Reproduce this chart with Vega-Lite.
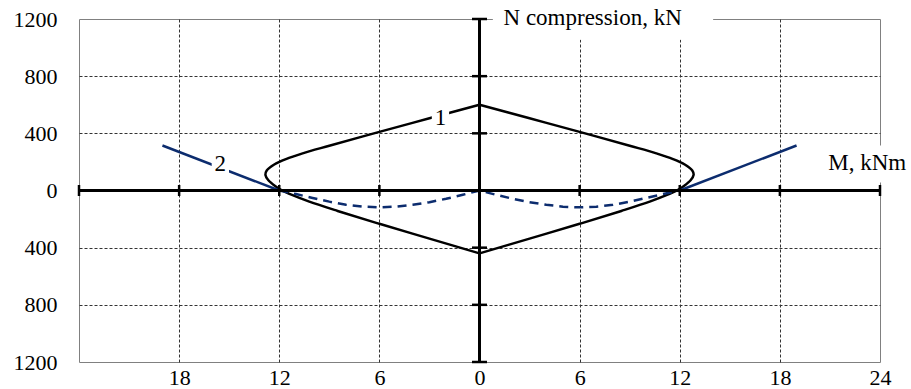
{
  "$schema": "https://vega.github.io/schema/vega-lite/v6.json",
  "width": 801,
  "height": 343,
  "autosize": {"type": "none"},
  "padding": {"left": 79, "top": 19, "right": 31, "bottom": 27},
  "background": "white",
  "config": {"view": {"stroke": "#808080", "strokeWidth": 1}, "font": "'Liberation Serif', serif"},
  "datasets": {
    "boxes": [
      {"x1": 0.8, "x2": 14, "y1": 1055, "y2": 1340},
      {"x1": 20.6, "x2": 26, "y1": 56, "y2": 315}
    ],
    "c1": [
      {"h": "L", "o": 1, "x": 0, "y": 600}, {"h": "L", "o": 2, "x": -3, "y": 505}, {"h": "L", "o": 3, "x": -6, "y": 410},
      {"h": "L", "o": 4, "x": -9, "y": 313}, {"h": "L", "o": 5, "x": -10.6, "y": 260}, {"h": "L", "o": 6, "x": -11.6, "y": 220},
      {"h": "L", "o": 7, "x": -12.3, "y": 182}, {"h": "L", "o": 8, "x": -12.75, "y": 140},
      {"h": "L", "o": 9, "x": -12.83, "y": 110}, {"h": "L", "o": 10, "x": -12.65, "y": 72},
      {"h": "L", "o": 11, "x": -12.25, "y": 32}, {"h": "L", "o": 12, "x": -11.9, "y": 5},
      {"h": "L", "o": 13, "x": -11.2, "y": -33}, {"h": "L", "o": 14, "x": -10.2, "y": -78},
      {"h": "L", "o": 15, "x": -8.5, "y": -143}, {"h": "L", "o": 16, "x": -6, "y": -233},
      {"h": "L", "o": 17, "x": -3, "y": -337}, {"h": "L", "o": 18, "x": 0, "y": -440},
      {"h": "R", "o": 1, "x": 0, "y": 600}, {"h": "R", "o": 2, "x": 3, "y": 505}, {"h": "R", "o": 3, "x": 6, "y": 410},
      {"h": "R", "o": 4, "x": 9, "y": 313}, {"h": "R", "o": 5, "x": 10.6, "y": 260}, {"h": "R", "o": 6, "x": 11.6, "y": 220},
      {"h": "R", "o": 7, "x": 12.3, "y": 182}, {"h": "R", "o": 8, "x": 12.75, "y": 140},
      {"h": "R", "o": 9, "x": 12.83, "y": 110}, {"h": "R", "o": 10, "x": 12.65, "y": 72},
      {"h": "R", "o": 11, "x": 12.25, "y": 32}, {"h": "R", "o": 12, "x": 11.9, "y": 5},
      {"h": "R", "o": 13, "x": 11.2, "y": -33}, {"h": "R", "o": 14, "x": 10.2, "y": -78},
      {"h": "R", "o": 15, "x": 8.5, "y": -143}, {"h": "R", "o": 16, "x": 6, "y": -233},
      {"h": "R", "o": 17, "x": 3, "y": -337}, {"h": "R", "o": 18, "x": 0, "y": -440}
    ],
    "c2solid": [
      {"seg": "L", "x": -19, "y": 315}, {"seg": "L", "x": -12, "y": 0},
      {"seg": "R", "x": 12, "y": 0}, {"seg": "R", "x": 19, "y": 315}
    ],
    "c2dash": [
      {"x": -12, "y": 0}, {"x": -11, "y": -25}, {"x": -10, "y": -52}, {"x": -9, "y": -78},
      {"x": -8, "y": -100}, {"x": -7, "y": -113}, {"x": -6, "y": -118}, {"x": -5, "y": -113},
      {"x": -4, "y": -100}, {"x": -3, "y": -82}, {"x": -2, "y": -58}, {"x": -1, "y": -30},
      {"x": 0, "y": 0}, {"x": 1, "y": -30}, {"x": 2, "y": -58}, {"x": 3, "y": -82},
      {"x": 4, "y": -100}, {"x": 5, "y": -113}, {"x": 6, "y": -118}, {"x": 7, "y": -113},
      {"x": 8, "y": -100}, {"x": 9, "y": -78}, {"x": 10, "y": -52}, {"x": 11, "y": -25},
      {"x": 12, "y": 0}
    ],
    "xt": [{"v": -24}, {"v": -18}, {"v": -12}, {"v": -6}, {"v": 6}, {"v": 12}, {"v": 18}, {"v": 24}],
    "yt": [{"v": -1200}, {"v": -800}, {"v": -400}, {"v": 400}, {"v": 800}, {"v": 1200}],
    "labels": [
      {"t": "1", "x": -2.34, "y": 510, "sy": 525},
      {"t": "2", "x": -15.53, "y": 185, "sy": 160}
    ],
    "titles": [
      {"t": "N compression, kN", "x": 1.44, "y": 1155},
      {"t": "M, kNm", "x": 20.9, "y": 140}
    ]
  },
  "layer": [
    {
      "data": {"name": "boxes"},
      "mark": {"type": "rect", "color": "white", "clip": false},
      "encoding": {
        "x": {
          "field": "x1", "type": "quantitative",
          "scale": {"domain": [-24, 24], "nice": false, "zero": false},
          "axis": {
            "values": [-18, -12, -6, 0, 6, 12, 18, 24],
            "title": null, "domain": false, "ticks": false, "tickSize": 0,
            "labelExpr": "format(abs(datum.value), 'd')",
            "labelFont": "'Liberation Serif', serif", "labelFontSize": 22, "labelColor": "black",
            "labelPadding": 5, "labelFlush": false, "labelOverlap": false,
            "grid": true, "gridColor": "#333333", "gridDash": [3, 2], "gridWidth": 1,
            "gridOpacity": {"condition": {"test": "datum.value == 24", "value": 0}, "value": 1}
          }
        },
        "x2": {"field": "x2"},
        "y": {
          "field": "y1", "type": "quantitative",
          "scale": {"domain": [-1200, 1200], "nice": false, "zero": false},
          "axis": {
            "values": [-1200, -800, -400, 0, 400, 800, 1200],
            "title": null, "domain": false, "ticks": false, "tickSize": 0,
            "labelExpr": "format(abs(datum.value), 'd')",
            "labelFont": "'Liberation Serif', serif", "labelFontSize": 22, "labelColor": "black",
            "labelPadding": 22, "labelFlush": false, "labelOverlap": false,
            "grid": true, "gridColor": "#333333", "gridDash": [3, 2], "gridWidth": 1,
            "gridOpacity": {"condition": {"test": "abs(datum.value) == 1200", "value": 0}, "value": 1}
          }
        },
        "y2": {"field": "y2"}
      }
    },
    {
      "data": {"name": "c1"},
      "mark": {"type": "line", "color": "black", "strokeWidth": 2.5, "interpolate": "catmull-rom"},
      "encoding": {
        "x": {"field": "x", "type": "quantitative"},
        "y": {"field": "y", "type": "quantitative"},
        "detail": {"field": "h", "type": "nominal"},
        "order": {"field": "o", "type": "quantitative"}
      }
    },
    {
      "data": {"name": "c2dash"},
      "mark": {"type": "line", "color": "#0c2c6e", "strokeWidth": 2.5, "strokeDash": [9, 6]},
      "encoding": {
        "x": {"field": "x", "type": "quantitative"},
        "y": {"field": "y", "type": "quantitative"}
      }
    },
    {
      "data": {"name": "c2solid"},
      "mark": {"type": "line", "color": "#0c2c6e", "strokeWidth": 2.5},
      "encoding": {
        "x": {"field": "x", "type": "quantitative"},
        "y": {"field": "y", "type": "quantitative"},
        "detail": {"field": "seg", "type": "nominal"}
      }
    },
    {
      "data": {"values": [{}]},
      "mark": {"type": "rule", "color": "black", "strokeWidth": 3},
      "encoding": {"y": {"datum": 0, "type": "quantitative"}}
    },
    {
      "data": {"values": [{}]},
      "mark": {"type": "rule", "color": "black", "strokeWidth": 3},
      "encoding": {"x": {"datum": 0, "type": "quantitative"}}
    },
    {
      "data": {"name": "xt"},
      "mark": {"type": "tick", "orient": "vertical", "size": 11, "thickness": 2.5, "color": "black", "opacity": 1},
      "encoding": {
        "x": {"field": "v", "type": "quantitative"},
        "y": {"datum": 0, "type": "quantitative"}
      }
    },
    {
      "data": {"name": "yt"},
      "mark": {"type": "tick", "orient": "horizontal", "size": 15, "thickness": 2.5, "color": "black", "opacity": 1},
      "encoding": {
        "y": {"field": "v", "type": "quantitative"},
        "x": {"datum": 0, "type": "quantitative"}
      }
    },
    {
      "data": {"name": "labels"},
      "mark": {"type": "point", "shape": "square", "filled": true, "color": "white", "size": 300, "opacity": 1},
      "encoding": {
        "x": {"field": "x", "type": "quantitative"},
        "y": {"field": "sy", "type": "quantitative"}
      }
    },
    {
      "data": {"name": "labels"},
      "mark": {"type": "text", "font": "'Liberation Serif', serif", "fontSize": 23, "color": "black", "align": "center", "baseline": "middle"},
      "encoding": {
        "x": {"field": "x", "type": "quantitative"},
        "y": {"field": "y", "type": "quantitative"},
        "text": {"field": "t"}
      }
    },
    {
      "data": {"name": "titles"},
      "mark": {"type": "text", "font": "'Liberation Serif', serif", "fontSize": 23, "color": "black", "align": "left", "baseline": "alphabetic"},
      "encoding": {
        "x": {"field": "x", "type": "quantitative"},
        "y": {"field": "y", "type": "quantitative"},
        "text": {"field": "t"}
      }
    }
  ]
}
